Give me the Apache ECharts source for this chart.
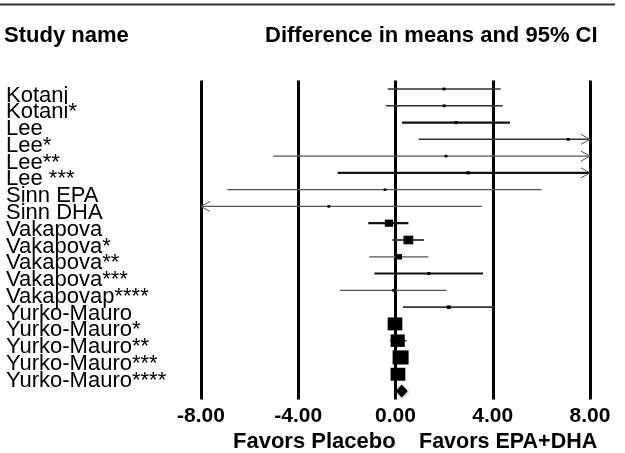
<!DOCTYPE html>
<html>
<head>
<meta charset="utf-8">
<script src="https://cdn.jsdelivr.net/npm/echarts@6/dist/echarts.min.js"></script>
<style>
  html, body { margin: 0; padding: 0; background: #fff; }
  #chart { width: 625px; height: 453px; }
</style>
</head>
<body>
<div id="chart"></div>
<script>
// forest plot: difference in means and 95% CI
const studies = [
  'Kotani', 'Kotani*', 'Lee', 'Lee*', 'Lee**', 'Lee ***', 'Sinn EPA', 'Sinn DHA',
  'Vakapova', 'Vakapova*', 'Vakapova**', 'Vakapova***', 'Vakapovap****',
  'Yurko-Mauro', 'Yurko-Mauro*', 'Yurko-Mauro**', 'Yurko-Mauro***', 'Yurko-Mauro****'
]
const means = [2.0, 2.0, 2.49, 7.11, 2.08, 2.99, -0.43, -2.74, -0.27, 0.53, 0.14, 1.37, -0.07, 2.19, -0.02, 0.09, 0.21, 0.1]
const lower = [-0.32, -0.39, 0.27, 0.95, -5.03, -2.38, -6.92, -9.03, -1.12, -0.13, -1.08, -0.87, -2.28, 0.31, -0.25, -0.23, -0.08, -0.2]
const upper = [4.33, 4.41, 4.71, 13.3, 9.19, 8.36, 6.01, 3.55, 0.53, 1.17, 1.35, 3.6, 2.09, 4.08, 0.22, 0.46, 0.5, 0.4]
const weights = [0.6, 0.6, 0.8, 0.6, 0.5, 0.8, 0.5, 0.5, 4.2, 6.0, 2.4, 0.7, 0.6, 1.0, 13.5, 12.5, 16, 13.5]
const pooled = [0.01, 0.25, 0.5] // lower, mean, upper
const xTicks = [-8, -4, 0, 4, 8]

// line styles per row (kept apart from the data)
const lineWidths = [1.5, 1.5, 2.2, 1.5, 1.2, 2.2, 1.2, 1.2, 2.2, 1.8, 1.2, 2.0, 1.2, 1.6, 1.5, 1.5, 1.5, 1.5]

const X_MIN = xTicks[0]
const X_MAX = xTicks[xTicks.length - 1]
const FONT = '"Liberation Sans", Arial, sans-serif'

const rowNames = studies.concat([''])
const ciData = studies.map((s, i) => [i, lower[i], upper[i], means[i], weights[i]])

const chart = echarts.init(document.getElementById('chart'), null, { renderer: 'canvas' })

function renderCI(params, api) {
  const i = api.value(0)
  const lo = api.value(1)
  const hi = api.value(2)
  const y = api.coord([0, i])[1]
  const x1 = api.coord([Math.max(lo, X_MIN), i])[0]
  const x2 = api.coord([Math.min(hi, X_MAX), i])[0]
  const w = lineWidths[i]
  const col = w >= 2 ? '#111' : (w >= 1.5 ? '#333' : '#555')
  const children = [{
    type: 'line',
    shape: { x1: x1, y1: y, x2: x2, y2: y },
    style: { stroke: col, lineWidth: w }
  }]
  if (hi > X_MAX) {
    children.push({
      type: 'polyline',
      shape: { points: [[x2 - 9, y - 5], [x2, y], [x2 - 9, y + 5]] },
      style: { stroke: '#555', lineWidth: 1, fill: 'none' }
    })
  }
  if (lo < X_MIN) {
    children.push({
      type: 'polyline',
      shape: { points: [[x1 + 9, y - 5], [x1, y], [x1 + 9, y + 5]] },
      style: { stroke: '#555', lineWidth: 1, fill: 'none' }
    })
  }
  return { type: 'group', children: children }
}

function renderBox(params, api) {
  const i = api.value(0)
  const p = api.coord([api.value(3), i])
  const side = 4 * Math.sqrt(api.value(4))
  const h = side * 0.88
  return {
    type: 'rect',
    shape: { x: p[0] - side / 2, y: p[1] - h / 2, width: side, height: h },
    style: { fill: '#000' }
  }
}

// study names sit a little below their row, as in the original figure
function renderName(params, api) {
  const i = api.value(0)
  const y = api.coord([0, i])[1]
  return {
    type: 'text',
    x: 6,
    y: y + 6.5,
    style: { text: studies[i], font: '22px ' + FONT, fill: '#000', verticalAlign: 'middle' }
  }
}

function renderDiamond(params, api) {
  const i = api.value(0)
  const left = api.coord([api.value(1), i])
  const mid = api.coord([api.value(2), i])
  const right = api.coord([api.value(3), i])
  return {
    type: 'polygon',
    shape: { points: [[left[0], mid[1]], [mid[0], mid[1] - 6.5], [right[0], mid[1]], [mid[0], mid[1] + 6.5]] },
    style: { fill: '#000', shadowBlur: 3, shadowColor: 'rgba(0,0,0,0.35)', shadowOffsetX: 1, shadowOffsetY: 1 }
  }
}

chart.setOption({
  animation: false,
  backgroundColor: '#fff',
  grid: { left: 201, right: 35, top: 80.6, bottom: 53.6 },
  xAxis: {
    type: 'value',
    min: X_MIN,
    max: X_MAX,
    interval: 4,
    axisLine: { show: false },
    axisTick: { show: false },
    splitLine: { show: true, lineStyle: { color: '#000', width: 3 } },
    axisLabel: {
      margin: 6,
      color: '#000',
      fontFamily: FONT,
      fontWeight: 'bold',
      fontSize: 21,
      formatter: (v) => v.toFixed(2)
    }
  },
  yAxis: {
    type: 'category',
    inverse: true,
    data: rowNames,
    axisLine: { show: false },
    axisTick: { show: false },
    splitLine: { show: false },
    axisLabel: { show: false }
  },
  series: [
    {
      type: 'custom',
      clip: false,
      renderItem: renderName,
      encode: { x: 3, y: 0 },
      data: ciData,
      silent: true
    },
    {
      type: 'custom',
      clip: false,
      renderItem: renderCI,
      encode: { x: [1, 2], y: 0 },
      data: ciData,
      z: 3
    },
    {
      type: 'custom',
      clip: false,
      renderItem: renderBox,
      encode: { x: 3, y: 0 },
      data: ciData,
      z: 4
    },
    {
      type: 'custom',
      clip: false,
      renderItem: renderDiamond,
      encode: { x: [1, 2, 3], y: 0 },
      data: [[studies.length].concat(pooled)],
      z: 4
    }
  ],
  graphic: [
    {
      type: 'line',
      shape: { x1: 0, y1: 4.5, x2: 615, y2: 4.5 },
      style: { stroke: '#333', lineWidth: 2 }
    },
    {
      type: 'text', x: 4, y: 36,
      style: { text: 'Study name', font: 'bold 22px ' + FONT, fill: '#000', verticalAlign: 'middle' }
    },
    {
      type: 'text', x: 265, y: 36,
      style: { text: 'Difference in means and 95% CI', font: 'bold 22px ' + FONT, fill: '#000', verticalAlign: 'middle' }
    },
    {
      type: 'text', x: 233, y: 442,
      style: { text: 'Favors Placebo', font: 'bold 22px ' + FONT, fill: '#000', verticalAlign: 'middle' }
    },
    {
      type: 'text', x: 419, y: 442,
      style: { text: 'Favors EPA+DHA', font: 'bold 21.5px ' + FONT, fill: '#000', verticalAlign: 'middle' }
    }
  ]
})
</script>
</body>
</html>
